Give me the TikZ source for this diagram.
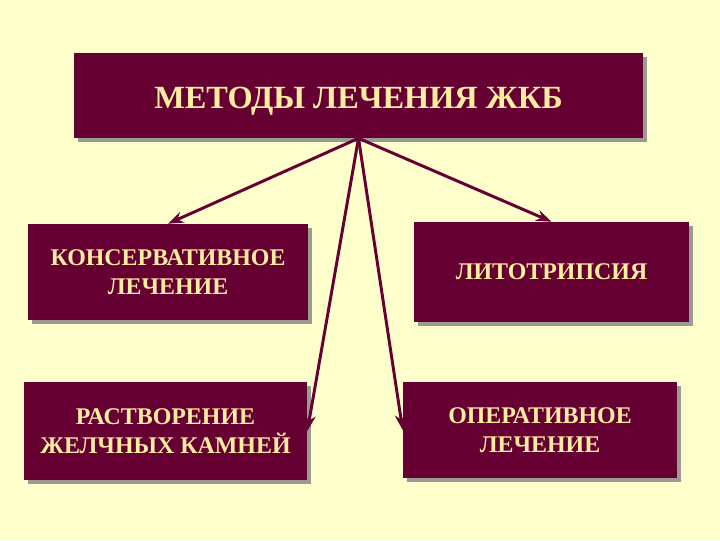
\documentclass[tikz,border=0pt]{standalone}
\usepackage{fontspec}
\setmainfont{Liberation Serif}
\usetikzlibrary{
  arrows.meta,  % Stealth tips
  shadows,      % box drop shadows
  positioning
}
\definecolor{paleyellow}{RGB}{255,255,204}
\definecolor{maroon}{RGB}{102,0,51}
\definecolor{goldtext}{RGB}{255,238,160}
\definecolor{shadowgray}{RGB}{155,155,145}
\tikzset{
  method box/.style={
    fill=maroon,
    text=goldtext,
    align=center,
    inner sep=0pt,
    font=\bfseries\fontsize{17}{21}\selectfont,
    drop shadow={shadow xshift=0.1cm, shadow yshift=-0.1cm,
                 fill=shadowgray, opacity=1}
  },
  title box/.style={
    method box,
    text height=22.8pt,
    text depth=4pt,
    font=\bfseries\fontsize{23}{27}\selectfont
  },
  link/.style={
    -{Stealth[length=11pt, width=8pt]},
    line width=2.1pt,
    draw=maroon
  }
}

\begin{document}
\begin{tikzpicture}[x=0.025cm, y=-0.025cm]

  % background, fixes the 720x540 frame
  \fill[paleyellow] (0,0) rectangle (720,540);
  \useasboundingbox (0,0) rectangle (720,540);

  % ---- title ----
  \node[title box, minimum width=14.225cm, minimum height=2.125cm]
    (title) at (358.5,95.5) {МЕТОДЫ ЛЕЧЕНИЯ ЖКБ};

  % ---- four methods ----
  \node[method box, minimum width=7cm, minimum height=2.4cm]
    (conserv) at (168,272) {КОНСЕРВАТИВНОЕ\\ЛЕЧЕНИЕ};
  \node[method box, minimum width=6.875cm, minimum height=2.5cm]
    (litho) at (551.5,272) {ЛИТОТРИПСИЯ};
  \node[method box, minimum width=7.075cm, minimum height=2.45cm]
    (dissolve) at (165.5,431) {РАСТВОРЕНИЕ\\ЖЕЛЧНЫХ КАМНЕЙ};
  \node[method box, minimum width=6.85cm, minimum height=2.4cm]
    (surgery) at (540,430) {ОПЕРАТИВНОЕ\\ЛЕЧЕНИЕ};

  % ---- arrows from the title ----
  \draw[link] (title.south) -- (conserv.north);
  \draw[link] (title.south) -- (litho.north);
  \draw[link] (title.south) -- (dissolve.east);
  \draw[link] (title.south) -- (surgery.west);

\end{tikzpicture}
\end{document}
